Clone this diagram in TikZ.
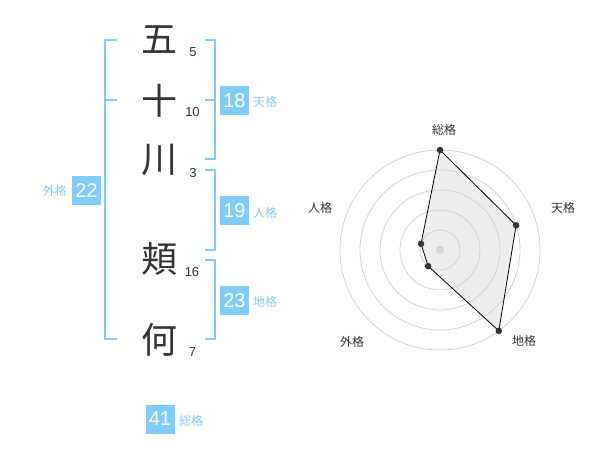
\documentclass[tikz,border=0pt]{standalone}
\usepackage{fontspec}
\setmainfont{Liberation Sans}
\newfontfamily\jp{Noto Sans CJK JP}
\definecolor{kblue}{RGB}{130,204,250}
\definecolor{kbox}{RGB}{128,204,250}
\definecolor{kdark}{RGB}{51,51,51}
\definecolor{kgrid}{RGB}{210,210,210}
\begin{document}
\begin{tikzpicture}[x=1pt,y=-1pt,
  kanji/.style={font=\jp\fontsize{36}{36}\selectfont, text=kdark, inner sep=0pt},
  strokes/.style={font=\fontsize{13}{13}\selectfont, text=kdark, inner sep=0pt},
  numbox/.style={fill=kbox, text=white, minimum width=29pt, minimum height=29pt, inner sep=0pt, font=\fontsize{20}{20}\selectfont},
  kaku/.style={font=\jp\fontsize{12}{12}\selectfont, text=kblue, inner sep=0pt},
  radlab/.style={font=\jp\fontsize{12}{12}\selectfont, text=kdark, inner sep=0pt},
  brk/.style={draw=kblue, line width=2pt},
  dot/.style={circle, fill=kdark, inner sep=0pt, minimum size=6.5pt}]
\useasboundingbox (0,0) rectangle (600,470);
% characters
\node[kanji] (k1) at (159,40) {五};
\node[kanji] (k2) at (159,101) {十};
\node[kanji] (k3) at (159,160) {川};
\node[kanji] (k4) at (159,259) {頬};
\node[kanji] (k5) at (159,340) {何};
\node[strokes] (s1) at (193,52.5) {5};
\node[strokes] (s2) at (192.5,112.5) {10};
\node[strokes] (s3) at (193,173) {3};
\node[strokes] (s4) at (192,272) {16};
\node[strokes] (s5) at (192.5,352) {7};
% left bracket (gaikaku)
\draw[brk] (117,40) -- (105,40) -- (105,339) -- (117,339);
\draw[brk] (105,100) -- (117,100);
% right brackets
\draw[brk] (205,40) -- (215,40) -- (215,159) -- (205,159);
\draw[brk] (205,100) -- (215,100);
\draw[brk] (205,170) -- (215,170) -- (215,250) -- (205,250);
\draw[brk] (205,260) -- (215,260) -- (215,339) -- (205,339);
% boxes
\node[numbox] (b18) at (234.5,100.5) {18};
\node[kaku, anchor=west] (l18) at (253,101.5) {天格};
\node[numbox] (b19) at (234.5,211) {19};
\node[kaku, anchor=west] (l19) at (253,213) {人格};
\node[numbox] (b23) at (234.5,300.5) {23};
\node[kaku, anchor=west] (l23) at (253,302) {地格};
\node[numbox] (b22) at (86.5,190.5) {22};
\node[kaku, anchor=east] (l22) at (67,191) {外格};
\node[numbox] (b41) at (160,419) {41};
\node[kaku, anchor=west] (l41) at (179,421) {総格};
% radar chart
\coordinate (c) at (440,250);
\foreach \r in {20,40,60,80,100} \draw[kgrid, line width=0.8pt] (c) circle[radius=\r];
\node[circle, fill=kgrid, inner sep=0pt, minimum size=8pt] (cdot) at (c) {};
\coordinate (p1) at (440,150);
\coordinate (p2) at (516.1,225.3);
\coordinate (p3) at (498.8,330.9);
\coordinate (p4) at (428.2,266.2);
\coordinate (p5) at (421.0,243.8);
\fill[gray!30, fill opacity=0.45] (p1) -- (p2) -- (p3) -- (p4) -- (p5) -- cycle;
\draw[black, line width=0.8pt] (p1) -- (p2) -- (p3) -- (p4) -- (p5) -- cycle;
\foreach \p in {p1,p2,p3,p4,p5} \node[dot] at (\p) {};
\node[radlab] (r1) at (444,130) {総格};
\node[radlab] (r2) at (563,208) {天格};
\node[radlab] (r3) at (524,341) {地格};
\node[radlab] (r4) at (352,342) {外格};
\node[radlab] (r5) at (320,208) {人格};
\end{tikzpicture}
\end{document}
